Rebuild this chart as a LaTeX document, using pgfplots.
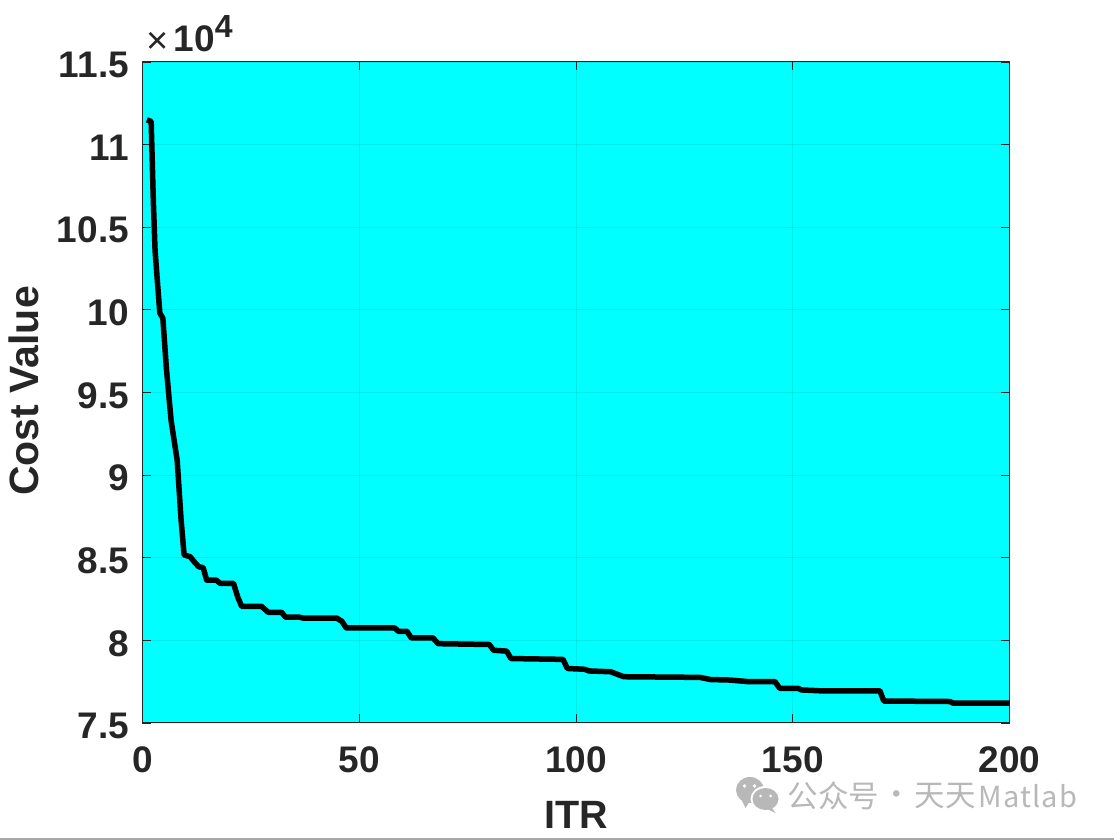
\documentclass[border=0pt]{standalone}
\usepackage{pgfplots}
\pgfplotsset{compat=1.18}
\usepackage{fontspec}
\setmainfont{Liberation Sans}
\newfontfamily\cjk{Noto Sans CJK SC}
\newfontfamily\wmlatin[LetterSpace=4]{Noto Sans CJK SC}
\definecolor{mltext}{HTML}{262626}
\definecolor{wm}{HTML}{B8B8B8}
\newcommand{\bigf}{\fontsize{37}{42}\selectfont\bfseries}
\begin{document}
\begin{tikzpicture}[x=1pt,y=1pt]
\path[use as bounding box] (-142.5,-117) rectangle (971.5,723);
\begin{axis}[
  at={(0,0)},anchor=south west,
  scale only axis,width=867pt,height=661pt,
  xmin=0,xmax=200,ymin=7.5,ymax=11.5,
  axis background/.style={fill={rgb,1:red,0;green,1;blue,1}},
  xtick={0,50,100,150,200},xticklabels={0,50,100,150,200},
  ytick={7.5,8,8.5,9,9.5,10,10.5,11,11.5},
  yticklabels={7.5,8,8.5,9,9.5,10,10.5,11,11.5},
  tick align=inside,tick pos=both,
  major tick length=8.5pt,
  major tick style={color=mltext,line width=0.8pt},
  axis line style={color=mltext,line width=1pt},
  grid=major,
  major grid style={color=black,opacity=0.08,line width=0.8pt},
  ticklabel style={font=\bigf,text=mltext},
  xticklabel style={yshift=-20pt},
  yticklabel style={xshift=-10pt,yshift=-3pt},
  clip=true,
]
\addplot[black,line width=5.5pt,line join=round] coordinates {
(1,11.15)(2,11.14)(2.5,10.66)(2.9,10.36)(3.5,10.15)(4,9.98)(4.7,9.95)(5.5,9.65)(6.6,9.33)(8,9.09)(8.9,8.73)(9.6,8.517)
(11,8.506)(12.1,8.47)(13,8.445)(14,8.44)(14.8,8.365)(17,8.365)(17.9,8.345)(21,8.345)(22,8.26)(22.9,8.205)(27.5,8.205)
(29,8.17)(32.1,8.17)(33,8.14)(36.3,8.14)(37,8.135)(44.8,8.135)(46,8.115)(47,8.075)(58.2,8.075)(59,8.055)(61,8.055)
(62,8.015)(67,8.015)(68.2,7.98)(80,7.975)(81,7.94)(84,7.935)(85,7.89)(97,7.885)(98,7.83)(102,7.825)(103,7.815)(108,7.81)
(111,7.78)(128.6,7.776)(131,7.763)(135.5,7.76)(139.8,7.75)(145.9,7.75)(147,7.71)(151.2,7.71)(152,7.70)(156.2,7.695)
(170.1,7.695)(171,7.633)(186.3,7.63)(187,7.62)(200,7.62)
};
\end{axis}
% axis titles and exponent
\node[font=\fontsize{41}{46}\selectfont\bfseries,text=mltext,rotate=90] at (-119,332) {Cost Value};
\node[font=\fontsize{39.5}{44}\selectfont\bfseries,text=mltext] at (434,-92) {ITR};
\node[anchor=base west,text=mltext,inner sep=0pt] at (3.5,669.5) {\fontsize{38}{42}\selectfont ×};
\node[anchor=base west,text=mltext,inner sep=0pt] at (31,671) {\fontsize{37}{42}\selectfont\bfseries 10\raisebox{14pt}{\fontsize{32}{36}\selectfont 4}};
% watermark
\fill[wm] (607.5,-67) ellipse (14 and 13);
\fill[wm] (599,-77) -- (603,-85) -- (608,-77) -- cycle;
\fill[white] (623,-76) ellipse (15 and 13);
\fill[wm] (623,-76) ellipse (13 and 11);
\fill[wm] (629,-84) -- (633,-90) -- (620,-84) -- cycle;
\fill[white] (602,-63) circle (1.8) (612,-63) circle (1.8);
\fill[white] (618,-73) circle (1.5) (628,-73) circle (1.5);
\node[anchor=west,text=wm,inner sep=0pt] at (645,-73) {\fontsize{30.5}{34}\selectfont\cjk 公众号};
\node[text=wm,inner sep=0pt] at (754,-75) {\fontsize{30.5}{34}\selectfont\cjk ·};
\node[anchor=west,text=wm,inner sep=0pt] at (772,-73) {\fontsize{30.5}{34}\selectfont\cjk 天天};
\node[anchor=west,text=wm,inner sep=0pt] at (836,-73) {\fontsize{29}{34}\selectfont\wmlatin Matlab};
\fill[black!35] (-142.5,-117) rectangle (971.5,-115.5);
\end{tikzpicture}
\end{document}
